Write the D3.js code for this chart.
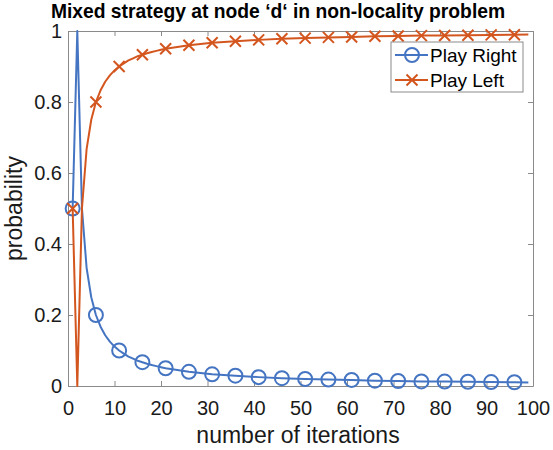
<!DOCTYPE html>
<html>
<head>
<meta charset="utf-8">
<script src="https://cdn.jsdelivr.net/npm/d3@7"></script>
<style>
  body { margin: 0; background: #fff; }
  svg { font-family: "Liberation Sans", Arial, Helvetica, sans-serif; }
</style>
</head>
<body>
<svg></svg>
<script>
let width = 553, height = 450

// iteration numbers and the two mixed-strategy probabilities
let iterations = [1, 2, 3, 4, 5, 6, 7, 8, 9, 10, 11, 12, 13, 14, 15, 16, 17, 18, 19, 20,
    21, 26, 31, 36, 41, 46, 51, 56, 61, 66, 71, 76, 81, 86, 91, 96, 99]
let playRight = [0.5, 1, 0.5, 0.333, 0.25, 0.2, 0.167, 0.143, 0.125, 0.111, 0.1, 0.091, 0.083, 0.077, 0.071, 0.067, 0.0625, 0.059, 0.056, 0.053,
    0.05, 0.04, 0.033, 0.029, 0.025, 0.022, 0.02, 0.018, 0.017, 0.015, 0.014, 0.013, 0.0125, 0.012, 0.011, 0.0105, 0.0102]
let playLeft = [0.5, 0, 0.5, 0.667, 0.75, 0.8, 0.833, 0.857, 0.875, 0.889, 0.9, 0.909, 0.917, 0.923, 0.929, 0.933, 0.9375, 0.941, 0.944, 0.947,
    0.95, 0.96, 0.967, 0.971, 0.975, 0.978, 0.98, 0.982, 0.983, 0.985, 0.986, 0.987, 0.9875, 0.988, 0.989, 0.9895, 0.9898]
let xTicks = [0, 10, 20, 30, 40, 50, 60, 70, 80, 90, 100]
let yTicks = [0, 0.2, 0.4, 0.6, 0.8, 1]

let blue = "#4575c2", orange = "#d4561f", axisGrey = "#8a8a8a", textColor = "#1a1a1a"

let margin = {left: 68, right: 20, top: 31, bottom: 64}

let svg = d3.select("svg").attr("width", width).attr("height", height)

let x = d3.scaleLinear().domain([0, 100]).range([margin.left, width - margin.right])
let y = d3.scaleLinear().domain([0, 1]).range([height - margin.bottom, margin.top])

// box + ticks (inward, on all four sides)
let tickLen = 5
let xAxis = svg.append("g").attr("transform", `translate(0,${y(0)})`)
    .call(d3.axisBottom(x).tickValues(xTicks).tickSizeInner(-tickLen).tickSizeOuter(0).tickPadding(15).tickFormat(d3.format("d")))
let xAxisTop = svg.append("g").attr("transform", `translate(0,${y(1)})`)
    .call(d3.axisTop(x).tickValues(xTicks).tickSizeInner(-tickLen).tickSizeOuter(0).tickFormat(""))
let yAxis = svg.append("g").attr("transform", `translate(${x(0)},0)`)
    .call(d3.axisLeft(y).tickValues(yTicks).tickSizeInner(-tickLen).tickSizeOuter(0).tickPadding(6).tickFormat(d => d === 0 || d === 1 ? d : d3.format(".1f")(d)))
let yAxisRight = svg.append("g").attr("transform", `translate(${x(100)},0)`)
    .call(d3.axisRight(y).tickValues(yTicks).tickSizeInner(-tickLen).tickSizeOuter(0).tickFormat(""))

;[xAxis, xAxisTop, yAxis, yAxisRight].forEach(g => {
    g.selectAll("path, line").attr("stroke", axisGrey).attr("stroke-width", 1)
    g.selectAll("text").attr("fill", textColor).style("font-size", "20px")
        .style("font-family", "'Liberation Sans', Arial, sans-serif")
})

let series = [
    {name: "Play Right", values: playRight, color: blue, marker: "circle"},
    {name: "Play Left", values: playLeft, color: orange, marker: "cross"},
]

let line = d3.line().x(d => x(d[0])).y(d => y(d[1]))

let crossPath = s => `M${-s},${-s}L${s},${s}M${-s},${s}L${s},${-s}`

series.forEach(s => {
    let pts = iterations.map((it, i) => [it, s.values[i]])
    svg.append("path")
        .attr("d", line(pts))
        .attr("fill", "none")
        .attr("stroke", s.color)
        .attr("stroke-width", 2)
        .attr("stroke-linejoin", "round")

    let marks = pts.filter(p => (p[0] - 1) % 5 === 0)
    if (s.marker === "circle") {
        svg.selectAll(null).data(marks).enter().append("circle")
            .attr("cx", d => x(d[0])).attr("cy", d => y(d[1])).attr("r", 7)
            .attr("fill", "none").attr("stroke", s.color).attr("stroke-width", 2)
    } else {
        svg.selectAll(null).data(marks).enter().append("path")
            .attr("transform", d => `translate(${x(d[0])},${y(d[1])})`)
            .attr("d", crossPath(5.5))
            .attr("fill", "none").attr("stroke", s.color).attr("stroke-width", 2)
    }
})

// title and axis labels
svg.append("text")
    .attr("x", 278).attr("y", 18)
    .attr("text-anchor", "middle")
    .attr("fill", "#000")
    .style("font-size", "19.3px").style("font-weight", "bold")
    .text("Mixed strategy at node \u2018d\u2018 in non-locality problem")

svg.append("text")
    .attr("x", 298).attr("y", 443)
    .attr("text-anchor", "middle")
    .attr("fill", textColor)
    .style("font-size", "23px")
    .text("number of iterations")

svg.append("text")
    .attr("transform", `translate(22,${(y(0) + y(1)) / 2}) rotate(-90)`)
    .attr("text-anchor", "middle")
    .attr("fill", textColor)
    .style("font-size", "23px")
    .text("probability")

// legend
let legend = svg.append("g").attr("transform", "translate(391,42)")
legend.append("rect").attr("width", 132).attr("height", 50)
    .attr("fill", "#fff").attr("stroke", axisGrey).attr("stroke-width", 1)

series.forEach((s, i) => {
    let g = legend.append("g").attr("transform", `translate(0,${13 + i * 25})`)
    g.append("line").attr("x1", 4).attr("x2", 37).attr("stroke", s.color).attr("stroke-width", 2)
    if (s.marker === "circle") {
        g.append("circle").attr("cx", 21).attr("r", 7).attr("fill", "none").attr("stroke", s.color).attr("stroke-width", 2)
    } else {
        g.append("path").attr("transform", "translate(21,0)").attr("d", crossPath(5.5))
            .attr("fill", "none").attr("stroke", s.color).attr("stroke-width", 2)
    }
    g.append("text").attr("x", 39).attr("dy", "0.36em")
        .attr("fill", "#000").style("font-size", "19px").text(s.name)
})
</script>
</body>
</html>
